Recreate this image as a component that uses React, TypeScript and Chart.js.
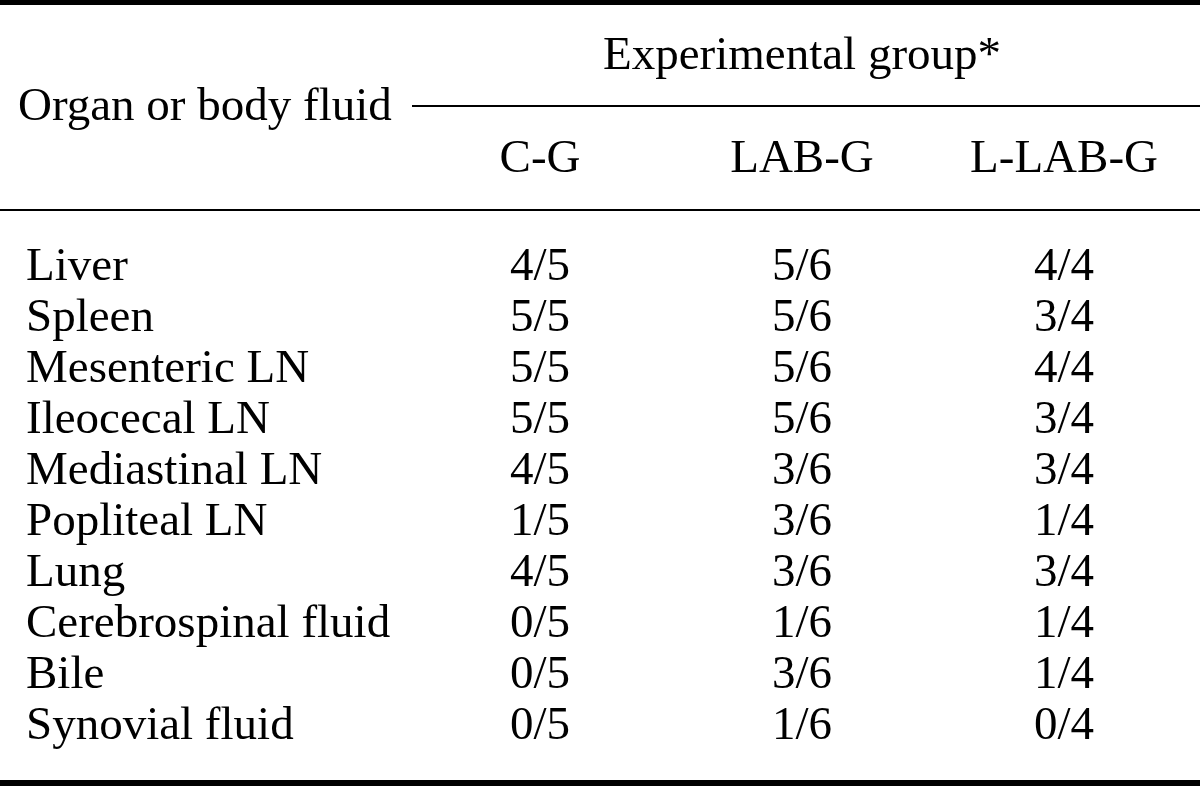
import React, { useEffect, useRef } from "react";
import { Chart, registerables } from "chart.js";

Chart.register(...registerables);

// ---- data ----
const ORGANS: string[] = [
  "Liver",
  "Spleen",
  "Mesenteric LN",
  "Ileocecal LN",
  "Mediastinal LN",
  "Popliteal LN",
  "Lung",
  "Cerebrospinal fluid",
  "Bile",
  "Synovial fluid",
];
const GROUPS: string[] = ["C-G", "LAB-G", "L-LAB-G"];
const GROUP_N: number[] = [5, 6, 4];
const CG_POSITIVE: number[] = [4, 5, 5, 5, 4, 1, 4, 0, 0, 0];
const LABG_POSITIVE: number[] = [5, 5, 5, 5, 3, 3, 3, 1, 3, 1];
const LLABG_POSITIVE: number[] = [4, 3, 4, 3, 3, 1, 3, 1, 1, 0];
const ROW_HEADER = "Organ or body fluid";
const GROUP_HEADER = "Experimental group*";

// ---- styles ----
const FONT_FAMILY = "'Liberation Serif', 'Times New Roman', serif";
const FONT_SIZE = 47;
const W = 1200;
const H = 787;

const tablePlugin = {
  id: "tableText",
  afterDatasetsDraw(chart: any) {
    const ctx: CanvasRenderingContext2D = chart.ctx;
    const xs = chart.scales.x;
    ctx.save();
    ctx.fillStyle = "#000";
    ctx.font = `${FONT_SIZE}px ${FONT_FAMILY}`;
    ctx.textBaseline = "middle";

    // cell values
    chart.data.datasets.forEach((ds: any, di: number) => {
      const meta = chart.getDatasetMeta(di);
      ctx.textAlign = "center";
      meta.data.forEach((el: any, i: number) => {
        const d = ds.data[i];
        ctx.fillText(`${d.pos}/${d.n}`, el.x, el.y);
      });
    });

    // column sub-headers
    ctx.textAlign = "center";
    GROUPS.forEach((g, i) => {
      ctx.fillText(g, xs.getPixelForValue(i), 160);
    });
    // group header
    ctx.fillText(GROUP_HEADER, xs.getPixelForValue(1), 57);
    // row header
    ctx.textAlign = "left";
    ctx.fillText(ROW_HEADER, 18, 108);

    // rules
    ctx.fillRect(0, 0, W, 5);
    ctx.fillRect(412, 105, W - 412, 2);
    ctx.fillRect(0, 209, W, 2);
    ctx.fillRect(0, 780, W, 6);
    ctx.restore();
  },
};

export default function App() {
  const ref = useRef<HTMLCanvasElement>(null);
  useEffect(() => {
    if (!ref.current) return;
    const series = [CG_POSITIVE, LABG_POSITIVE, LLABG_POSITIVE];
    const chart = new Chart(ref.current, {
      type: "scatter",
      data: {
        datasets: series.map((vals, gi) => ({
          label: GROUPS[gi],
          data: ORGANS.map((o, i) => ({ x: GROUPS[gi], y: o, pos: vals[i], n: GROUP_N[gi] })) as any,
          pointRadius: 0,
          pointHoverRadius: 0,
          showLine: false,
        })),
      },
      options: {
        responsive: false,
        maintainAspectRatio: false,
        animation: false,
        events: [],
        layout: { padding: { left: 26, right: 136, top: 268, bottom: 60 } },
        plugins: { legend: { display: false }, tooltip: { enabled: false } },
        scales: {
          x: {
            type: "category",
            labels: GROUPS,
            offset: false,
            display: false,
          },
          y: {
            type: "category",
            labels: ORGANS,
            offset: false,
            grid: { display: false, drawTicks: false },
            border: { display: false },
            ticks: {
              autoSkip: false,
              crossAlign: "far",
              padding: 0,
              color: "#000",
              font: { family: FONT_FAMILY, size: FONT_SIZE },
            },
            afterFit: (s: any) => {
              s.width = 540 - 26;
            },
          },
        },
      } as any,
      plugins: [tablePlugin],
    });
    return () => chart.destroy();
  }, []);
  return (
    <div style={{ position: "absolute", left: 0, top: 0, width: W, height: H, background: "#fff" }}>
      <canvas ref={ref} width={W} height={H} />
    </div>
  );
}
